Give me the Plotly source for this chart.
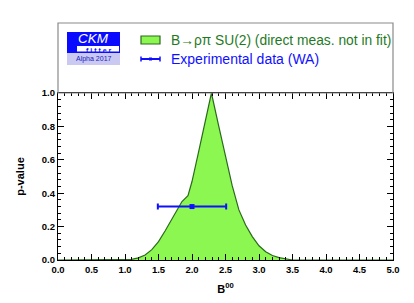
import plotly.graph_objects as go

# p-value scan curve (B->rho pi SU(2))
b00 = [0.0, 1.0, 1.1, 1.2, 1.3, 1.4, 1.5, 1.6, 1.7, 1.77, 1.85, 1.94, 2.0, 2.1, 2.2, 2.29,
       2.4, 2.5, 2.6, 2.7, 2.8, 2.9, 3.0, 3.1, 3.2, 3.3, 3.4, 3.5, 5.0]
pval = [0.0, 0.0, 0.004, 0.013, 0.03, 0.062, 0.11, 0.175, 0.245, 0.30, 0.35, 0.385, 0.47, 0.65, 0.83, 1.0,
        0.80, 0.62, 0.445, 0.30, 0.21, 0.14, 0.085, 0.05, 0.027, 0.014, 0.006, 0.0, 0.0]

# experimental data (WA)
exp_x = [2.0]
exp_y = [0.32]
exp_err = [0.51]

x_ticks = [0.0, 0.5, 1.0, 1.5, 2.0, 2.5, 3.0, 3.5, 4.0, 4.5, 5.0]
y_ticks = [0.0, 0.2, 0.4, 0.6, 0.8, 1.0]

FONT = "Liberation Sans, Arial, Helvetica, sans-serif"
GREEN_FILL = "#8cf750"
GREEN_LINE = "#2a6a1c"
BLUE = "#1010ff"

fig = go.Figure()
fig.add_trace(go.Scatter(x=b00, y=pval, mode="lines", fill="tozeroy",
                         fillcolor=GREEN_FILL, line=dict(color=GREEN_LINE, width=1.2),
                         showlegend=False, hoverinfo="skip"))
fig.add_trace(go.Scatter(x=exp_x, y=exp_y, mode="markers",
                         marker=dict(color=BLUE, size=5, symbol="square"),
                         error_x=dict(type="data", array=exp_err, color=BLUE, thickness=2, width=3),
                         showlegend=False, hoverinfo="skip"))

W, H = 414, 303
L, R, T, B = 58, 21, 93, 43
ph = H - T - B
pw = W - L - R

def px2paper(x, y):
    return (x - L) / pw, (H - B - y) / ph

shapes = []
# legend frame
x0, y0 = px2paper(58, 23)
x1, y1 = px2paper(393, 93)
shapes.append(dict(type="rect", xref="paper", yref="paper", x0=x0, x1=x1, y0=y1, y1=y0,
                   line=dict(color="#8a8a8a", width=1.2), fillcolor="rgba(0,0,0,0)"))
# logo: blue part
a0, b0_ = px2paper(67, 32)
a1, b1 = px2paper(120, 53)
shapes.append(dict(type="rect", xref="paper", yref="paper", x0=a0, x1=a1, y0=b1, y1=b0_,
                   line=dict(width=0), fillcolor="#0a0aff"))
# white band for "fitter"
a0, b0_ = px2paper(77, 46)
a1, b1 = px2paper(119, 51.5)
shapes.append(dict(type="rect", xref="paper", yref="paper", x0=a0, x1=a1, y0=b1, y1=b0_,
                   line=dict(width=0), fillcolor="white"))
# lavender Alpha 2017
a0, b0_ = px2paper(67, 53)
a1, b1 = px2paper(120, 65)
shapes.append(dict(type="rect", xref="paper", yref="paper", x0=a0, x1=a1, y0=b1, y1=b0_,
                   line=dict(width=0), fillcolor="#c9c9f2"))
# legend green box
a0, b0_ = px2paper(141, 36)
a1, b1 = px2paper(160, 44)
shapes.append(dict(type="rect", xref="paper", yref="paper", x0=a0, x1=a1, y0=b1, y1=b0_,
                   line=dict(color=GREEN_LINE, width=1.2), fillcolor=GREEN_FILL))
# legend errorbar symbol
a0, yy = px2paper(141, 59)
a1, _ = px2paper(160, 59)
shapes.append(dict(type="line", xref="paper", yref="paper", x0=a0, x1=a1, y0=yy, y1=yy,
                   line=dict(color=BLUE, width=2)))
for xe in (141, 160):
    ax, ya = px2paper(xe, 56.5)
    _, yb = px2paper(xe, 61.5)
    shapes.append(dict(type="line", xref="paper", yref="paper", x0=ax, x1=ax, y0=ya, y1=yb,
                       line=dict(color=BLUE, width=1.5)))
mx, my0 = px2paper(149, 57.5)
mx1, my1 = px2paper(152, 60.5)
shapes.append(dict(type="rect", xref="paper", yref="paper", x0=mx, x1=mx1, y0=my1, y1=my0,
                   line=dict(width=0), fillcolor=BLUE))

annotations = []
def ann(text, x, y, size, color, xanchor="left", bold=False, italic=False):
    t = text
    if bold:
        t = "<b>" + t + "</b>"
    if italic:
        t = "<i>" + t + "</i>"
    px, py = px2paper(x, y)
    annotations.append(dict(text=t, x=px, y=py, xref="paper", yref="paper", showarrow=False,
                            xanchor=xanchor, yanchor="middle", borderpad=0,
                            font=dict(family=FONT, size=size, color=color)))

ann("CKM", 93.5, 38.8, 13.5, "white", xanchor="center", italic=True)
ann("f i t t e r", 98.5, 50, 7, BLUE, xanchor="center", bold=True)
ann("Alpha 2017", 93.5, 59.5, 7, "#2020c0", xanchor="center")
ann("B→ρπ SU(2) (direct meas. not in fit)", 170, 40, 13.8, "#1f7a1f")
ann("Experimental data (WA)", 170, 59, 14, BLUE)

fig.update_layout(
    width=W, height=H,
    margin=dict(l=L, r=R, t=T, b=B, autoexpand=False),
    paper_bgcolor="white", plot_bgcolor="white",
    font=dict(family=FONT, size=9, color="black"),
    shapes=shapes, annotations=annotations,
    showlegend=False,
)
fig.update_xaxes(range=[0, 5], tickvals=x_ticks, ticktext=[f"<b>{v:.1f}</b>" for v in x_ticks],
                 ticks="inside", ticklen=6, tickwidth=1.2, tickcolor="black",
                 minor=dict(ticks="inside", dtick=0.1, ticklen=3, tickcolor="black", tickwidth=1),
                 showline=True, linecolor="black", linewidth=1.2, mirror="ticks",
                 showgrid=False, zeroline=False, automargin=False,
                 tickfont=dict(size=9.5, family=FONT),
                 title=dict(text="<b>B<sup>00</sup></b>", font=dict(size=11, family=FONT), standoff=11))
fig.update_yaxes(range=[0, 1], tickvals=y_ticks, ticktext=[f"<b>{v:.1f}</b>" for v in y_ticks],
                 ticks="inside", ticklen=6, tickwidth=1.2, tickcolor="black",
                 minor=dict(ticks="inside", dtick=0.04, ticklen=3, tickcolor="black", tickwidth=1),
                 showline=True, linecolor="black", linewidth=1.2, mirror="ticks",
                 showgrid=False, zeroline=False, automargin=False,
                 tickfont=dict(size=9.5, family=FONT),
                 title=dict(text="<b>p-value</b>", font=dict(size=11, family=FONT), standoff=14))

fig.write_html("out.html", config={"displayModeBar": False},
               post_script="document.body.style.margin='0px';document.body.style.padding='0px';")
